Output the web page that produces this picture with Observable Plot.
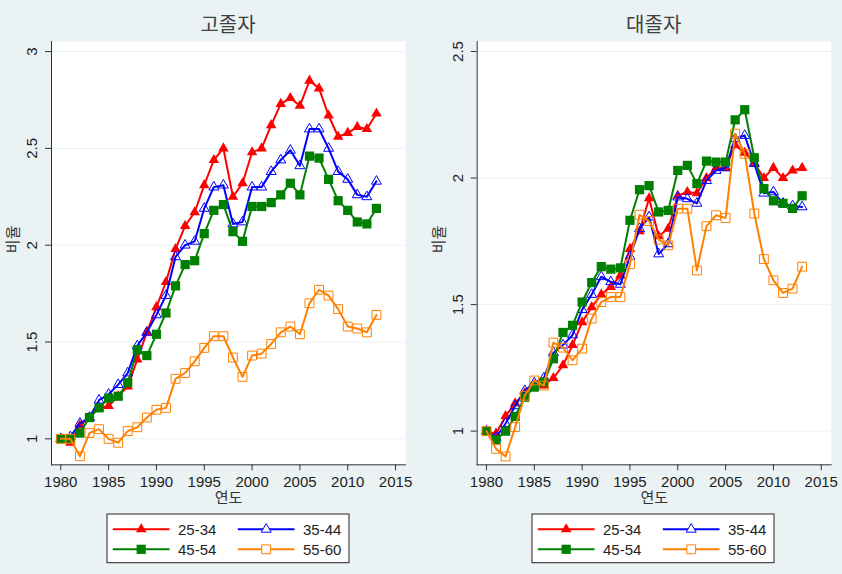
<!DOCTYPE html>
<html><head><meta charset="utf-8">
<script src="https://cdn.jsdelivr.net/npm/d3@7"></script>
<script src="https://cdn.jsdelivr.net/npm/@observablehq/plot@0.6"></script>
<style>
body{margin:0;background:#EAF2F3;}
#root{position:relative;width:842px;height:574px;background:#EAF2F3;overflow:hidden;font-family:"Liberation Sans",Arial,sans-serif;}
#root svg{max-width:none;}
.title{position:absolute;top:12px;font-family:"Noto Sans CJK KR",sans-serif;font-size:20px;color:#404040;transform:translateX(-50%);white-space:nowrap;line-height:24px;}
.abs{position:absolute;}
</style></head><body><div id="root"></div>
<script>
// ---- data ----
const years = [1980,1981,1982,1983,1984,1985,1986,1987,1988,1989,1990,1991,1992,1993,1994,1995,1996,1997,1998,1999,2000,2001,2002,2003,2004,2005,2006,2007,2008,2009,2010,2011,2012,2013];
const groups = ["25-34","35-44","45-54","55-60"];
const panelTitles = ["고졸자","대졸자"];
const xTicks = [1980,1985,1990,1995,2000,2005,2010,2015];
const yTicksHS = [1,1.5,2,2.5,3];
const yTicksCol = [1,1.5,2,2.5];
const xLabel = "연도";
const yLabel = "비율";

// 고졸자
const hs_25_34 = [1.00,0.98,1.07,1.11,1.16,1.17,1.22,1.27,1.41,1.55,1.68,1.81,1.98,2.10,2.17,2.31,2.44,2.50,2.25,2.32,2.48,2.50,2.62,2.73,2.76,2.72,2.85,2.81,2.67,2.56,2.58,2.61,2.60,2.68];
const hs_35_44 = [1.00,1.01,1.08,1.11,1.20,1.23,1.28,1.34,1.48,1.55,1.64,1.74,1.94,2.00,2.02,2.19,2.30,2.31,2.11,2.12,2.30,2.30,2.38,2.44,2.49,2.41,2.60,2.60,2.50,2.38,2.34,2.26,2.25,2.33];
const hs_45_54 = [1.00,1.00,1.03,1.11,1.16,1.21,1.22,1.29,1.46,1.43,1.54,1.65,1.79,1.90,1.92,2.06,2.18,2.21,2.07,2.02,2.20,2.20,2.22,2.26,2.32,2.26,2.46,2.45,2.34,2.23,2.18,2.12,2.11,2.19];
const hs_55_60 = [1.00,1.00,0.91,1.03,1.05,1.00,0.98,1.04,1.06,1.11,1.15,1.16,1.31,1.34,1.40,1.47,1.53,1.53,1.42,1.32,1.43,1.44,1.49,1.55,1.58,1.54,1.70,1.77,1.74,1.67,1.58,1.57,1.55,1.64];
// 대졸자
const col_25_34 = [1.00,0.99,1.06,1.11,1.15,1.18,1.18,1.21,1.26,1.34,1.43,1.49,1.54,1.57,1.615,1.72,1.79,1.92,1.77,1.80,1.93,1.945,1.94,2.00,2.04,2.04,2.13,2.10,2.06,2.00,2.04,2.00,2.03,2.04];
const col_35_44 = [1.00,0.975,1.03,1.10,1.16,1.19,1.21,1.31,1.34,1.38,1.48,1.54,1.61,1.59,1.58,1.69,1.80,1.846,1.70,1.74,1.925,1.918,1.90,1.99,2.03,2.04,2.155,2.168,2.057,1.94,1.945,1.90,1.89,1.886];
const col_45_54 = [1.00,0.966,1.00,1.058,1.134,1.174,1.194,1.286,1.39,1.418,1.51,1.587,1.65,1.64,1.645,1.833,1.954,1.97,1.866,1.872,2.03,2.05,1.978,2.067,2.063,2.063,2.23,2.27,2.08,1.958,1.91,1.90,1.88,1.93];
const col_55_60 = [1.00,0.93,0.90,1.016,1.14,1.20,1.18,1.35,1.33,1.28,1.326,1.445,1.51,1.53,1.53,1.66,1.855,1.83,1.757,1.734,1.879,1.879,1.635,1.81,1.853,1.842,2.175,2.096,1.86,1.68,1.596,1.546,1.563,1.65];

// ---- styles ----
const BG = "#EAF2F3";
const styles = {
  "25-34": {color:"#FF0000", symbol:"triangle", fill:"#FF0000", r:3.9, sw:0},
  "35-44": {color:"#0000FF", symbol:"triangle", fill:"none", r:3.7, sw:1},
  "45-54": {color:"#008000", symbol:"square", fill:"#008000", r:5.2, sw:0},
  "55-60": {color:"#FF8000", symbol:"square", fill:"none", r:5.0, sw:1}
};

function makeRows(seriesList){
  const rows = [];
  groups.forEach((g,gi)=>{
    years.forEach((yr,i)=>rows.push({year:yr, value:seriesList[gi][i], group:g}));
  });
  return rows;
}

const root = document.getElementById("root");

function panel({left, width, mL, mR, yDomain, yTicks, series, title, legendLeft, titleX}){
  const rows = makeRows(series);
  const marks = [
    Plot.frame({fill:"white", stroke:"none"}),
    Plot.gridY(yTicks, {stroke:BG, strokeOpacity:1, strokeWidth:1}),
    Plot.axisX({ticks:xTicks, tickSize:6, tickPadding:6, tickFormat:d=>String(d), label:null, stroke:"#333", fill:"#222", fontSize:15}),
    Plot.axisY({ticks:yTicks, tickSize:6, tickFormat:()=>"", label:null, stroke:"#333"}),
    Plot.text(yTicks, {y:d=>d, text:d=>String(d), frameAnchor:"left", dx:-19, rotate:-90, textAnchor:"middle", lineAnchor:"middle", fontSize:15, fill:"#222"}),
    Plot.text([xLabel], {frameAnchor:"bottom", dy:33, text:d=>d, fontSize:15, fill:"#333", fontFamily:"Noto Sans CJK KR", lineAnchor:"middle"}),
    Plot.text([yLabel], {frameAnchor:"left", dx:-38, rotate:-90, text:d=>d, fontSize:15, fill:"#333", fontFamily:"Noto Sans CJK KR", lineAnchor:"middle"}),
  ];
  groups.forEach(g=>{
    const s = styles[g];
    const data = rows.filter(d=>d.group===g);
    marks.push(Plot.line(data, {x:"year", y:"value", stroke:s.color, strokeWidth:2}));
    marks.push(Plot.dot(data, {x:"year", y:"value", symbol:()=>s.symbol, r:s.r, fill:s.fill, stroke:s.sw? s.color : "none", strokeWidth:s.sw}));
  });
  marks.push(Plot.frame({anchor:"left", stroke:"#333"}));
  marks.push(Plot.frame({anchor:"bottom", stroke:"#333"}));
  const chart = Plot.plot({
    width, height:510,
    marginLeft:mL, marginRight:mR, marginTop:41, marginBottom:45.7,
    style:{background:"transparent", fontFamily:"'Liberation Sans', Arial, sans-serif", fontSize:"15px", overflow:"visible"},
    x:{domain:[1979.03, 2016.04]},
    y:{domain:yDomain},
    symbol:{type:"identity"},
    marks
  });
  chart.style.position = "absolute";
  chart.style.left = left + "px";
  chart.style.top = "0px";
  root.appendChild(chart);

  const t = document.createElement("div");
  t.className = "title";
  t.style.left = titleX + "px";
  t.textContent = title;
  root.appendChild(t);

  // legend
  const lw = 242, lh = 48.7;
  const svg = d3.create("svg").attr("width", lw+2).attr("height", lh+2)
    .style("position","absolute").style("left",(legendLeft-1)+"px").style("top",(514-1)+"px").style("overflow","visible");
  svg.append("rect").attr("x",1).attr("y",1).attr("width",lw).attr("height",lh).attr("fill","white").attr("stroke","#222").attr("stroke-width",1);
  const cols = [0, 125];
  const rowsY = [15.3+1, 35.3+1];
  groups.forEach((g,i)=>{
    const s = styles[g];
    const cx = 1 + cols[i%2], cy = rowsY[Math.floor(i/2)];
    svg.append("line").attr("x1",cx+5.8).attr("x2",cx+62.5).attr("y1",cy).attr("y2",cy).attr("stroke",s.color).attr("stroke-width",2);
    const sym = s.symbol==="triangle"? d3.symbolTriangle : d3.symbolSquare;
    svg.append("path").attr("d", d3.symbol(sym, Math.PI*s.r*s.r)()).attr("transform",`translate(${cx+34.2},${cy})`)
      .attr("fill", s.fill==="none" ? "white" : s.fill).attr("stroke", s.sw? s.color : "none").attr("stroke-width", s.sw);
    svg.append("text").attr("x",cx+71).attr("y",cy).attr("dy","0.35em").attr("font-size",15).attr("fill","#222")
      .attr("font-family","'Liberation Sans', Arial, sans-serif").text(g);
  });
  root.appendChild(svg.node());
}

panel({left:0, width:421, mL:51, mR:16, yDomain:[0.866,3.052], yTicks:yTicksHS,
  series:[hs_25_34,hs_35_44,hs_45_54,hs_55_60], title:panelTitles[0], legendLeft:106.5, titleX:228});
panel({left:421, width:421, mL:55.7, mR:11.3, yDomain:[0.867,2.5395], yTicks:yTicksCol,
  series:[col_25_34,col_35_44,col_45_54,col_55_60], title:panelTitles[1], legendLeft:532.3, titleX:653.7});
</script>
</body></html>
